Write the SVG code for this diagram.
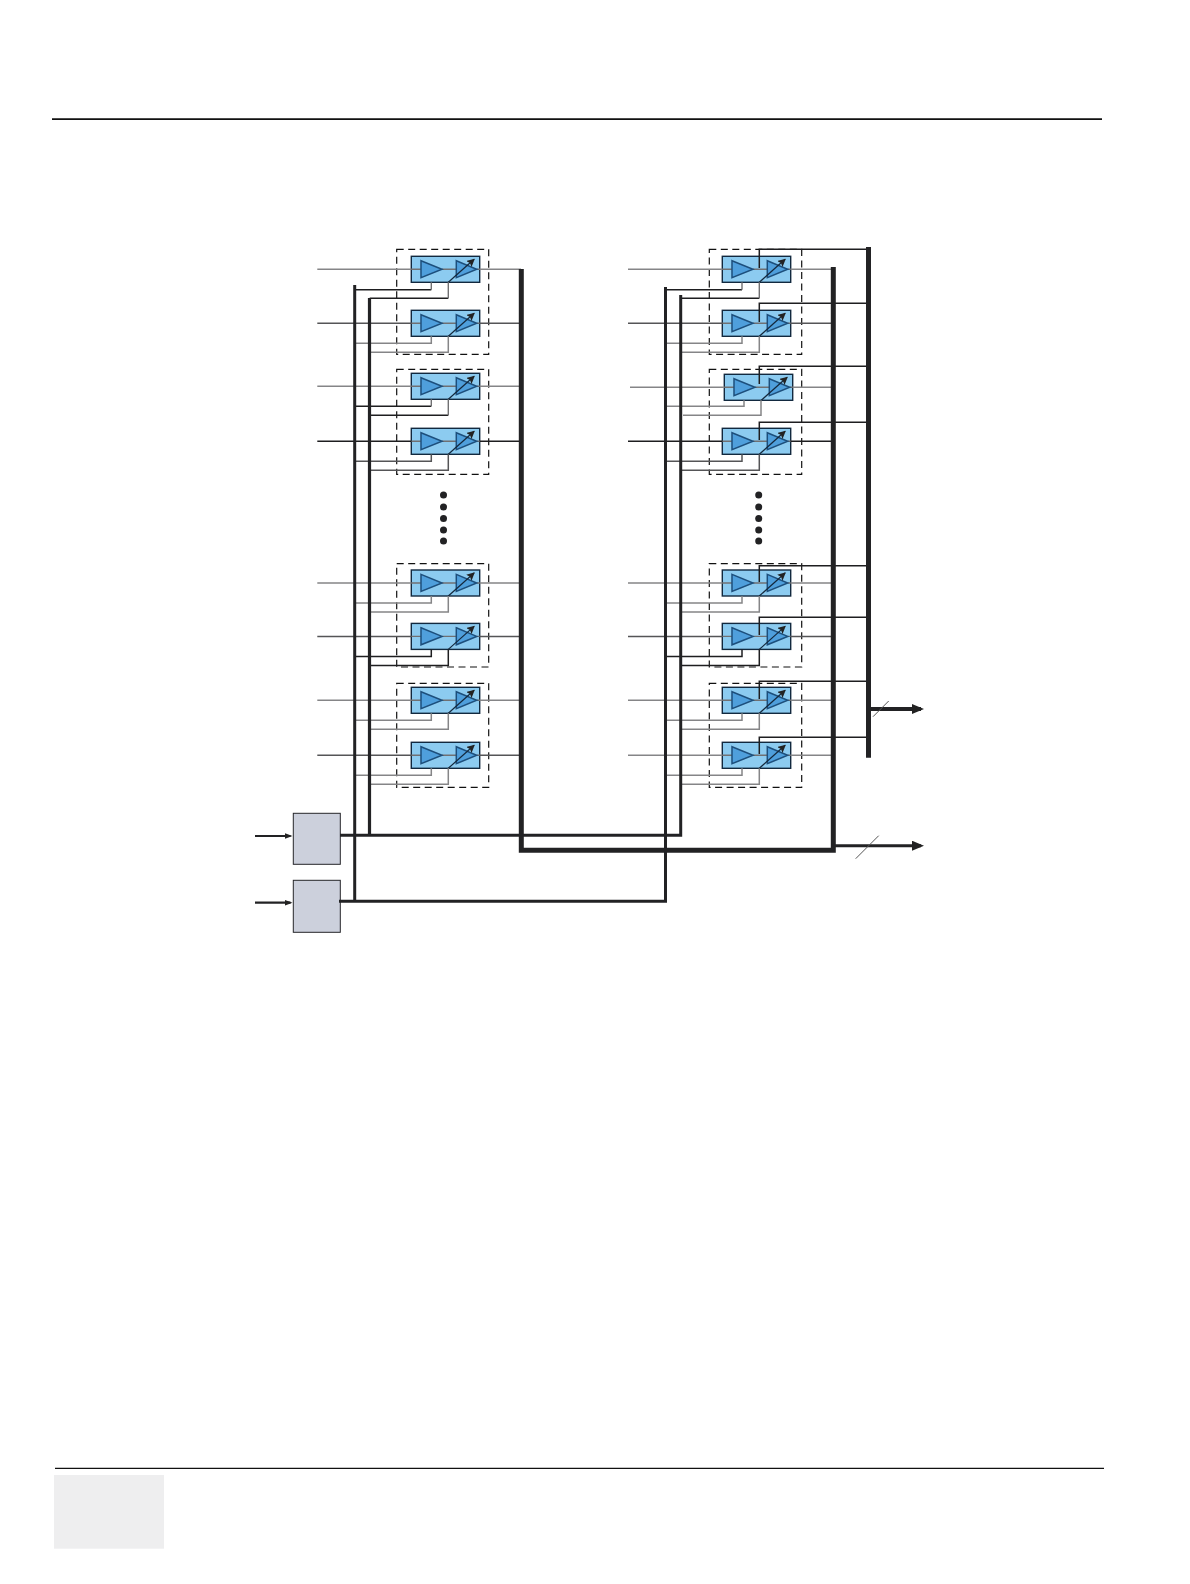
<svg xmlns="http://www.w3.org/2000/svg" width="1190" height="1584" viewBox="0 0 1190 1584">
<style>
.bg{fill:#fff}
.box{fill:#8ccbf0;stroke:#12293f;stroke-width:1.4}
.tri{fill:#4f9fdc;stroke:#1d4f7c;stroke-width:1.5}
.dash{fill:none;stroke:#111;stroke-width:1.2;stroke-dasharray:7 4.5}
.gray{fill:#ccd0dc;stroke:#26262a;stroke-width:1}
.wire{fill:none;stroke-width:1.5}
.d{stroke:#1e1e20}.m{stroke:#555557}.l{stroke:#858587}
.v{fill:none;stroke:#707072;stroke-width:1.4}
.bus{fill:none;stroke:#222224;stroke-linejoin:miter}
.dot{fill:#222224}
</style>
<defs>
<marker id="tip" markerUnits="userSpaceOnUse" markerWidth="10" markerHeight="8" refX="7" refY="4" orient="auto"><path d="M0,0L8,4L0,8L1.5,4Z" fill="#222"/></marker>
<marker id="ah" markerUnits="userSpaceOnUse" markerWidth="12" markerHeight="10" refX="6" refY="4" orient="auto"><path d="M0,1L8,4L0,7Z" fill="#222"/></marker>
<marker id="ah2" markerUnits="userSpaceOnUse" markerWidth="13" markerHeight="12" refX="9" refY="5" orient="auto"><path d="M0,0L12,5L0,10Z" fill="#222"/></marker>
<g id="amp">
<rect class="box" width="68.4" height="26"/>
<path class="v" d="M0,13H9.7M30.7,13H45M65.4,13H68.4"/>
<path class="tri" d="M9.7,4.4L30.7,13L9.7,21.4Z"/>
<path class="tri" d="M45,4.4L65.4,13L45,21.4Z"/>
<path d="M37,26L62.8,3" stroke="#14283c" stroke-width="1.2" fill="none" marker-end="url(#tip)"/>
</g>
</defs>
<rect class="bg" width="1190" height="1584"/>
<g id="page">
<path d="M52,119.2H1102" stroke="#111" stroke-width="1.8"/>
<path d="M55,1468.3H1104" stroke="#111" stroke-width="1.2"/>
<rect x="54" y="1475" width="110" height="73.7" fill="#eeeeef"/>
</g>
<g id="left-amps">
<rect id="L-group-1" class="dash" x="396.7" y="249.3" width="92" height="105"/>
<rect id="L-group-2" class="dash" x="396.7" y="369.3" width="92" height="105"/>
<rect id="L-group-3" class="dash" x="396.7" y="563.7" width="92" height="103.3"/>
<rect id="L-group-4" class="dash" x="396.7" y="683.3" width="92" height="104"/>
<g id="L1"><use href="#amp" x="411.3" y="256.3"/></g>
<g id="L2"><use href="#amp" x="411.3" y="310.3"/></g>
<g id="L3"><use href="#amp" x="411.3" y="373.3"/></g>
<g id="L4"><use href="#amp" x="411.3" y="428.3"/></g>
<g id="L5"><use href="#amp" x="411.3" y="570"/></g>
<g id="L6"><use href="#amp" x="411.3" y="623.4"/></g>
<g id="L7"><use href="#amp" x="411.3" y="687.3"/></g>
<g id="L8"><use href="#amp" x="411.3" y="742.3"/></g>
</g>
<g id="right-amps">
<rect id="R-group-1" class="dash" x="709.3" y="249.3" width="92.4" height="105"/>
<rect id="R-group-2" class="dash" x="709.3" y="369.3" width="92.4" height="105"/>
<rect id="R-group-3" class="dash" x="709.3" y="563.7" width="92.4" height="103.3"/>
<rect id="R-group-4" class="dash" x="709.3" y="683.3" width="92.4" height="104"/>
<g id="R1"><use href="#amp" x="722.3" y="256.3"/></g>
<g id="R2"><use href="#amp" x="722.3" y="310.3"/></g>
<g id="R3"><use href="#amp" x="724.3" y="374.3"/></g>
<g id="R4"><use href="#amp" x="722.3" y="428.3"/></g>
<g id="R5"><use href="#amp" x="722.3" y="570"/></g>
<g id="R6"><use href="#amp" x="722.3" y="623.4"/></g>
<g id="R7"><use href="#amp" x="722.3" y="687.3"/></g>
<g id="R8"><use href="#amp" x="722.3" y="742.3"/></g>
</g>
<g id="ctrl-1"><rect class="gray" x="293.3" y="813.3" width="47" height="51"/></g>
<g id="ctrl-2"><rect class="gray" x="293.3" y="880.3" width="47" height="52"/></g>
<g id="dots-left">
<circle class="dot" cx="443.5" cy="495" r="3.5"/><circle class="dot" cx="443.5" cy="507" r="3.5"/><circle class="dot" cx="443.5" cy="518.5" r="3.5"/><circle class="dot" cx="443.5" cy="530" r="3.5"/><circle class="dot" cx="443.5" cy="541" r="3.5"/>
</g>
<g id="dots-right">
<circle class="dot" cx="758.7" cy="495" r="3.5"/><circle class="dot" cx="758.7" cy="507" r="3.5"/><circle class="dot" cx="758.7" cy="518.5" r="3.5"/><circle class="dot" cx="758.7" cy="530" r="3.5"/><circle class="dot" cx="758.7" cy="541" r="3.5"/>
</g>
<g id="connectors">
<g id="signals-left">
<path class="wire l" d="M317.3,269.3H411.3M479.7,269.3H521"/>
<path class="wire m" d="M317.3,323.3H411.3M479.7,323.3H521"/>
<path class="wire l" d="M317.3,386.3H411.3M479.7,386.3H521"/>
<path class="wire d" d="M317.3,441.3H411.3M479.7,441.3H521"/>
<path class="wire l" d="M317.3,583H411.3M479.7,583H521"/>
<path class="wire m" d="M317.3,636.4H411.3M479.7,636.4H521"/>
<path class="wire l" d="M317.3,700.3H411.3M479.7,700.3H521"/>
<path class="wire m" d="M317.3,755.3H411.3M479.7,755.3H521"/>
</g>
<g id="signals-right">
<path class="wire l" d="M628,269.3H722.3M790.7,269.3H833"/>
<path class="wire m" d="M628,323.3H722.3M790.7,323.3H833"/>
<path class="wire l" d="M630,387.3H724.3M792.7,387.3H833"/>
<path class="wire d" d="M628,441.3H722.3M790.7,441.3H833"/>
<path class="wire l" d="M628,583H722.3M790.7,583H833"/>
<path class="wire m" d="M628,636.4H722.3M790.7,636.4H833"/>
<path class="wire l" d="M628,700.3H722.3M790.7,700.3H833"/>
<path class="wire l" d="M628,755.3H722.3M790.7,755.3H833"/>
</g>
<g id="controls-left">
<path class="wire d" d="M354.7,289.7H431.3M369.7,298.3H448.3"/><path class="v" d="M431.3,282.3V289.7M448.3,282.3V298.3"/>
<path class="wire l" d="M354.7,343.3H431.3V336.3M369.7,352.3H448.3V336.3"/>
<path class="wire d" d="M354.7,406.3H431.3M369.7,415.3H448.3"/><path class="v" d="M431.3,399.3V406.3M448.3,399.3V415.3"/>
<path class="wire m" d="M354.7,461.3H431.3V454.3M369.7,470.3H448.3V454.3"/>
<path class="wire l" d="M354.7,603H431.3V596M369.7,612H448.3V596"/>
<path class="wire d" d="M354.7,656.4H431.3V649.4M369.7,665.4H448.3V649.4"/>
<path class="wire l" d="M354.7,720.3H431.3V713.3M369.7,729.3H448.3V713.3"/>
<path class="wire l" d="M354.7,775.3H431.3V768.3M369.7,784.3H448.3V768.3"/>
</g>
<g id="controls-right">
<path class="wire d" d="M665.5,289.7H742M680.5,298.3H759.3"/><path class="v" d="M742,282.3V289.7M759.3,282.3V298.3"/>
<path class="wire l" d="M665.5,343.3H742V336.3M680.5,352.3H759.3V336.3"/>
<path class="wire l" d="M665.5,406.3H744V400.3M683,415.3H761V400.3"/>
<path class="wire m" d="M665.5,461.3H742V454.3M680.5,470.3H759.3V454.3"/>
<path class="wire l" d="M665.5,603H742V596M680.5,612H759.3V596"/>
<path class="wire d" d="M665.5,656.4H742V649.4M680.5,665.4H759.3V649.4"/>
<path class="wire l" d="M665.5,720.3H742V713.3M680.5,729.3H759.3V713.3"/>
<path class="wire l" d="M665.5,775.3H742V768.3M680.5,784.3H759.3V768.3"/>
</g>
<g id="drops-right">
<path class="wire d" d="M868,249.3H759.3V268M868,303.3H759.3V322M868,366.3H759.3V384M868,422.3H759.3V440M868,565.7H759.3V582M868,617.2H759.3V635M868,681.3H759.3V699M868,737.3H759.3V754"/>
</g>
<g id="buses">
<path class="bus" stroke-width="3" d="M354.7,285V901.3"/>
<path class="bus" stroke-width="3.2" d="M369.5,298V835.3"/>
<path class="bus" stroke-width="3" d="M665.5,287V901.3H339"/>
<path class="bus" stroke-width="3" d="M340,835.3H680.7V295"/>
<path class="bus" stroke-width="5" d="M521.3,269V850.3H833.3V267"/>
<path class="bus" stroke-width="5" d="M868.5,247V757.7"/>
</g>
<g id="arrows">
<path class="bus" stroke-width="2.2" d="M255,836H290.5" marker-end="url(#ah)"/>
<path class="bus" stroke-width="2.2" d="M255,902.7H290.5" marker-end="url(#ah)"/>
<path class="bus" stroke-width="3.8" d="M868,709H921" marker-end="url(#ah2)"/>
<path class="bus" stroke-width="3" d="M835,845.7H921" marker-end="url(#ah2)"/>
<path d="M873,716.7L888.7,701M855.7,858.7L878.7,835.7" fill="none" stroke="#555" stroke-width="1"/>
</g>
</g>
</svg>
